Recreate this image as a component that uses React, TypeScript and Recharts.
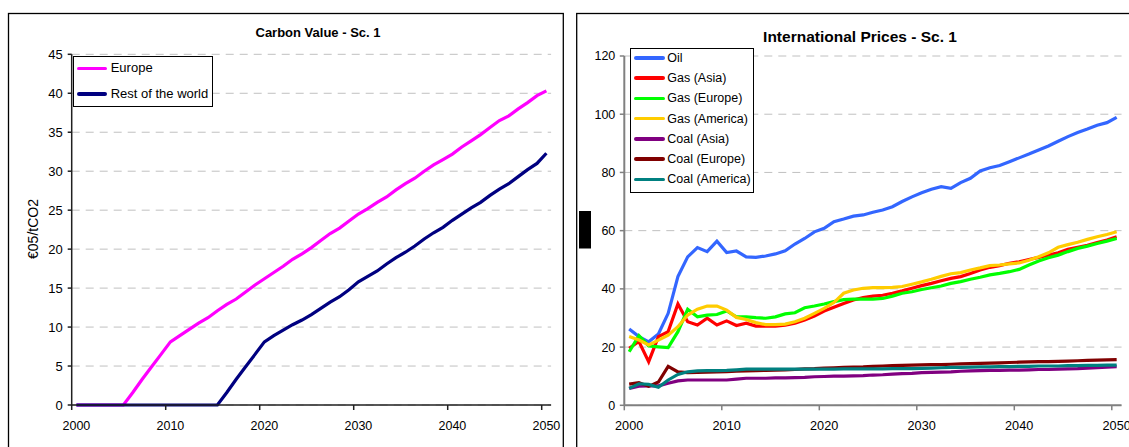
import React from 'react';
import { LineChart, Line, XAxis, YAxis, CartesianGrid, Legend } from 'recharts';

const FONT = '"Liberation Sans", Arial, sans-serif';

const years = [
  2000, 2001, 2002, 2003, 2004, 2005, 2006, 2007, 2008, 2009,
  2010, 2011, 2012, 2013, 2014, 2015, 2016, 2017, 2018, 2019,
  2020, 2021, 2022, 2023, 2024, 2025, 2026, 2027, 2028, 2029,
  2030, 2031, 2032, 2033, 2034, 2035, 2036, 2037, 2038, 2039,
  2040, 2041, 2042, 2043, 2044, 2045, 2046, 2047, 2048, 2049, 2050,
];

// Carbon value (€05/tCO2)
const europe = [
  0, 0, 0, 0, 0, 0, 1.6, 3.3, 4.9, 6.5,
  8.1, 8.9, 9.7, 10.5, 11.2, 12.1, 12.9, 13.6, 14.5, 15.4,
  16.2, 17.0, 17.8, 18.7, 19.4, 20.2, 21.1, 22.0, 22.7, 23.6,
  24.5, 25.2, 26.0, 26.7, 27.6, 28.4, 29.1, 30.0, 30.8, 31.5,
  32.2, 33.1, 33.9, 34.7, 35.6, 36.5, 37.1, 38.0, 38.8, 39.7, 40.3,
];
const restOfWorld = [
  0, 0, 0, 0, 0, 0, 0, 0, 0, 0,
  0, 0, 0, 0, 0, 0, 1.6, 3.3, 4.9, 6.5,
  8.1, 8.9, 9.6, 10.3, 10.9, 11.6, 12.4, 13.2, 13.9, 14.8,
  15.8, 16.5, 17.2, 18.1, 18.9, 19.6, 20.4, 21.3, 22.1, 22.8,
  23.7, 24.5, 25.3, 26.0, 26.9, 27.7, 28.4, 29.3, 30.2, 31.0, 32.3,
];

// International prices
const oil = [
  26.2, 23.6, 21.8, 24.5, 31.6, 44.2, 51.0, 54.2, 52.8, 56.4,
  52.5, 53.0, 51.0, 50.8, 51.3, 52.0, 53.1, 55.4, 57.3, 59.6,
  60.8, 63.1, 64.0, 65.0, 65.4, 66.3, 67.1, 68.2, 70.0, 71.6,
  73.0, 74.2, 75.1, 74.5, 76.5, 78.0, 80.5, 81.6, 82.4, 83.7,
  85.0, 86.3, 87.7, 89.1, 90.7, 92.3, 93.7, 94.9, 96.2, 97.1, 98.9,
];
const gasAsia = [
  19.6, 21.9, 15.0, 23.6, 25.3, 34.8, 28.7, 27.6, 29.9, 27.6,
  29.0, 27.4, 28.2, 27.2, 27.2, 27.2, 27.5, 28.2, 29.3, 30.7,
  32.4, 33.7, 35.0, 36.2, 37.0, 37.5, 37.8, 38.5, 39.3, 40.2,
  41.1, 41.9, 42.8, 43.6, 44.2, 45.3, 46.5, 47.4, 48.0, 48.8,
  49.3, 50.1, 50.8, 51.6, 52.4, 53.6, 54.3, 55.0, 55.9, 56.8, 57.9,
];
const gasEurope = [
  18.4, 23.9, 20.4, 20.1, 19.8, 25.3, 33.0, 30.4, 31.0, 31.2,
  32.4, 30.4, 30.4, 30.1, 29.9, 30.4, 31.4, 31.8, 33.5, 34.1,
  34.8, 35.6, 36.3, 36.5, 36.5, 36.5, 36.7, 37.5, 38.5, 39.0,
  39.8, 40.4, 41.0, 41.9, 42.5, 43.3, 44.0, 44.8, 45.3, 45.9,
  46.7, 48.2, 49.6, 50.7, 51.6, 52.8, 53.9, 54.7, 55.6, 56.4, 57.3,
];
const gasAmerica = [
  23.6, 22.4, 20.7, 22.4, 24.1, 27.0, 31.0, 33.0, 34.1, 34.1,
  32.7, 30.2, 29.5, 28.4, 27.7, 27.7, 27.9, 28.7, 29.9, 31.6,
  33.3, 35.3, 38.5, 39.6, 40.2, 40.4, 40.4, 40.5, 40.8, 41.6,
  42.4, 43.3, 44.3, 45.2, 45.6, 46.5, 47.2, 48.0, 48.2, 48.6,
  48.9, 49.8, 51.0, 52.4, 54.3, 55.2, 56.0, 57.0, 57.9, 58.7, 59.6,
];
const coalAsia = [
  5.8, 6.6, 6.7, 6.7, 7.6, 8.4, 8.7, 8.7, 8.7, 8.7,
  8.7, 9.0, 9.3, 9.3, 9.3, 9.4, 9.4, 9.5, 9.6, 9.8,
  9.9, 10.0, 10.0, 10.1, 10.2, 10.4, 10.5, 10.7, 10.9, 11.0,
  11.2, 11.3, 11.4, 11.5, 11.7, 11.8, 11.9, 12.0, 12.0, 12.1,
  12.1, 12.2, 12.3, 12.3, 12.4, 12.5, 12.6, 12.8, 12.9, 13.1, 13.3,
];
const coalEurope = [
  7.3, 7.8, 6.5, 8.0, 13.4, 11.5, 11.2, 11.3, 11.4, 11.5,
  11.6, 11.7, 11.8, 11.9, 12.0, 12.1, 12.2, 12.3, 12.5, 12.6,
  12.8, 12.9, 13.0, 13.1, 13.2, 13.4, 13.5, 13.6, 13.7, 13.8,
  13.9, 14.0, 14.0, 14.1, 14.2, 14.3, 14.4, 14.5, 14.6, 14.7,
  14.8, 14.9, 15.0, 15.0, 15.1, 15.2, 15.3, 15.4, 15.5, 15.6, 15.7,
];
const coalAmerica = [
  5.8, 7.4, 7.2, 6.2, 8.7, 10.6, 11.5, 11.8, 11.9, 11.9,
  12.0, 12.2, 12.4, 12.4, 12.4, 12.4, 12.4, 12.4, 12.4, 12.4,
  12.4, 12.4, 12.5, 12.5, 12.5, 12.5, 12.5, 12.6, 12.6, 12.6,
  12.7, 12.8, 12.9, 13.0, 13.0, 13.1, 13.2, 13.2, 13.3, 13.3,
  13.4, 13.4, 13.5, 13.5, 13.5, 13.6, 13.6, 13.7, 13.7, 13.8, 13.8,
];

const xTicks = [2000, 2010, 2020, 2030, 2040, 2050];
const carbonYTicks = [0, 5, 10, 15, 20, 25, 30, 35, 40, 45];
const priceYTicks = [0, 20, 40, 60, 80, 100, 120];

const carbonSeries = [
  { key: 'europe', name: 'Europe', color: '#FF00FF' },
  { key: 'row', name: 'Rest of the world', color: '#000080' },
];
const priceSeries = [
  { key: 'oil', name: 'Oil', color: '#3366FF' },
  { key: 'gasAsia', name: 'Gas (Asia)', color: '#FF0000' },
  { key: 'gasEurope', name: 'Gas (Europe)', color: '#00FF00' },
  { key: 'gasAmerica', name: 'Gas (America)', color: '#FFCC00' },
  { key: 'coalAsia', name: 'Coal (Asia)', color: '#800080' },
  { key: 'coalEurope', name: 'Coal (Europe)', color: '#800000' },
  { key: 'coalAmerica', name: 'Coal (America)', color: '#008080' },
];

const carbonData = years.map((year, i) => ({ year, europe: europe[i], row: restOfWorld[i] }));
const priceData = years.map((year, i) => ({
  year,
  oil: oil[i],
  gasAsia: gasAsia[i],
  gasEurope: gasEurope[i],
  gasAmerica: gasAmerica[i],
  coalAsia: coalAsia[i],
  coalEurope: coalEurope[i],
  coalAmerica: coalAmerica[i],
}));

const makeXTick = (half: number, color: string, fontSize: number) => (props: any) => {
  const { x, y, payload } = props;
  return (
    <g>
      <line x1={x - half} y1={y - 5} x2={x - half} y2={y} stroke={color} strokeWidth={1.5} />
      <text x={x} y={y + 20} textAnchor="middle" fontSize={fontSize} fontFamily={FONT} fill="#000">
        {payload.value}
      </text>
    </g>
  );
};

const makeLegend = (opts: {
  order: string[]; width: number; height: number; rowTop: number; rowGap: number;
  lineX: number; lineW: number; textX: number; fontSize: number;
}) => (props: any) => {
  const raw = (props.payload || []).slice();
  const payload = raw.sort((a: any, b: any) => opts.order.indexOf(a.value) - opts.order.indexOf(b.value));
  return (
    <div
      style={{
        position: 'relative', width: opts.width, height: opts.height,
        border: '1px solid #000', background: '#fff', boxSizing: 'border-box', fontFamily: FONT,
      }}
    >
      {payload.map((p: any, i: number) => (
        <div key={i} style={{ position: 'absolute', left: 0, top: opts.rowTop + i * opts.rowGap - 9, height: 18, width: '100%' }}>
          <div style={{ position: 'absolute', left: opts.lineX, top: 7.3, width: opts.lineW, height: 3.6, background: p.color, borderRadius: 2 }} />
          <span style={{ position: 'absolute', left: opts.textX, top: 0, lineHeight: '18px', fontSize: opts.fontSize, whiteSpace: 'nowrap', color: '#000' }}>
            {p.value}
          </span>
        </div>
      ))}
    </div>
  );
};

const LEFT_AXIS = '#202020';
const RIGHT_AXIS = '#808080';

export default function App() {
  return (
    <div style={{ position: 'absolute', left: 0, top: 0, width: 1129, height: 447, overflow: 'hidden', background: '#fff' }}>
      <div style={{ position: 'absolute', left: 0, top: 0 }}>
        <LineChart width={570} height={447} data={carbonData} margin={{ top: 54.3, right: 18.9, bottom: 0, left: 0 }}>
          <CartesianGrid horizontal vertical={false} stroke="#c0c0c0" strokeDasharray="8 6" />
          <XAxis
            dataKey="year" type="number" domain={[1999.5, 2050.5]} ticks={xTicks} interval={0}
            height={42} tickSize={5} tickMargin={0} tickLine={false}
            axisLine={{ stroke: LEFT_AXIS, strokeWidth: 1.5 }}
            tick={makeXTick(4.7, LEFT_AXIS, 12.5)}
          />
          <YAxis
            type="number" domain={[0, 45]} ticks={carbonYTicks} interval={0} width={71.7}
            tickSize={4} tickMargin={5}
            axisLine={{ stroke: LEFT_AXIS, strokeWidth: 1.5 }}
            tickLine={{ stroke: LEFT_AXIS, strokeWidth: 1.5 }}
            tick={{ fill: '#000', fontSize: 13, fontFamily: FONT }}
          />
          <Legend
            layout="vertical" align="center" verticalAlign="middle" itemSorter={null as any}
            wrapperStyle={{ left: 73.3, top: 56, width: 139.4, height: 51.3 }}
            content={makeLegend({ order: carbonSeries.map((s) => s.name), width: 139.4, height: 51.3, rowTop: 11.3, rowGap: 25.4, lineX: 3, lineW: 30, textX: 36.4, fontSize: 13 })}
          />
          {carbonSeries.map((s) => (
            <Line
              key={s.key} dataKey={s.key} name={s.name} stroke={s.color} strokeWidth={3.2}
              dot={false} activeDot={false} isAnimationActive={false} type="linear"
            />
          ))}
        </LineChart>
      </div>

      <div style={{ position: 'absolute', left: 570, top: 0 }}>
        <LineChart width={559} height={447} data={priceData} margin={{ top: 56, right: 7.45, bottom: 0, left: 0 }}>
          <CartesianGrid horizontal vertical={false} stroke="#c0c0c0" strokeDasharray="8 6" />
          <XAxis
            dataKey="year" type="number" domain={[1999.5, 2050.5]} ticks={xTicks} interval={0}
            height={41.7} tickSize={5} tickMargin={0} tickLine={false}
            axisLine={{ stroke: RIGHT_AXIS, strokeWidth: 2 }}
            tick={makeXTick(4.875, RIGHT_AXIS, 12.7)}
          />
          <YAxis
            type="number" domain={[0, 120]} ticks={priceYTicks} interval={0} width={54.3}
            tickSize={4.5} tickMargin={4.5}
            axisLine={{ stroke: RIGHT_AXIS, strokeWidth: 2 }}
            tickLine={{ stroke: RIGHT_AXIS, strokeWidth: 1.5 }}
            tick={{ fill: '#000', fontSize: 12.5, fontFamily: FONT }}
          />
          <Legend
            layout="vertical" align="center" verticalAlign="middle" itemSorter={null as any}
            wrapperStyle={{ left: 59.7, top: 48.3, width: 124.6, height: 145 }}
            content={makeLegend({ order: priceSeries.map((s) => s.name), width: 124.6, height: 145, rowTop: 8.4, rowGap: 20.27, lineX: 3.6, lineW: 30.7, textX: 36.6, fontSize: 12.5 })}
          />
          {priceSeries.map((s) => (
            <Line
              key={s.key} dataKey={s.key} name={s.name} stroke={s.color} strokeWidth={3.2}
              dot={false} activeDot={false} isAnimationActive={false} type="linear"
            />
          ))}
        </LineChart>
      </div>

      <svg width={1129} height={447} style={{ position: 'absolute', left: 0, top: 0, pointerEvents: 'none' }}>
        <rect x={8.5} y={13.5} width={554.8} height={500} fill="none" stroke="#000" strokeWidth={1.3} />
        <rect x={576.7} y={13.5} width={600} height={500} fill="none" stroke="#000" strokeWidth={1.3} />
        <text x={318} y={37.3} textAnchor="middle" fontSize={13} fontWeight="bold" fontFamily={FONT} fill="#000">
          Carbon Value - Sc. 1
        </text>
        <text x={860} y={42.3} textAnchor="middle" fontSize={15.5} fontWeight="bold" fontFamily={FONT} fill="#000">
          International Prices - Sc. 1
        </text>
        <text
          x={32.5} y={229} textAnchor="middle" dominantBaseline="central" fontSize={14} fontFamily={FONT} fill="#000"
          transform="rotate(-90 32.5 229)"
        >
          €05/tCO2
        </text>
        <rect x={579} y={211} width={12} height={37.5} fill="#000" />
      </svg>
    </div>
  );
}
